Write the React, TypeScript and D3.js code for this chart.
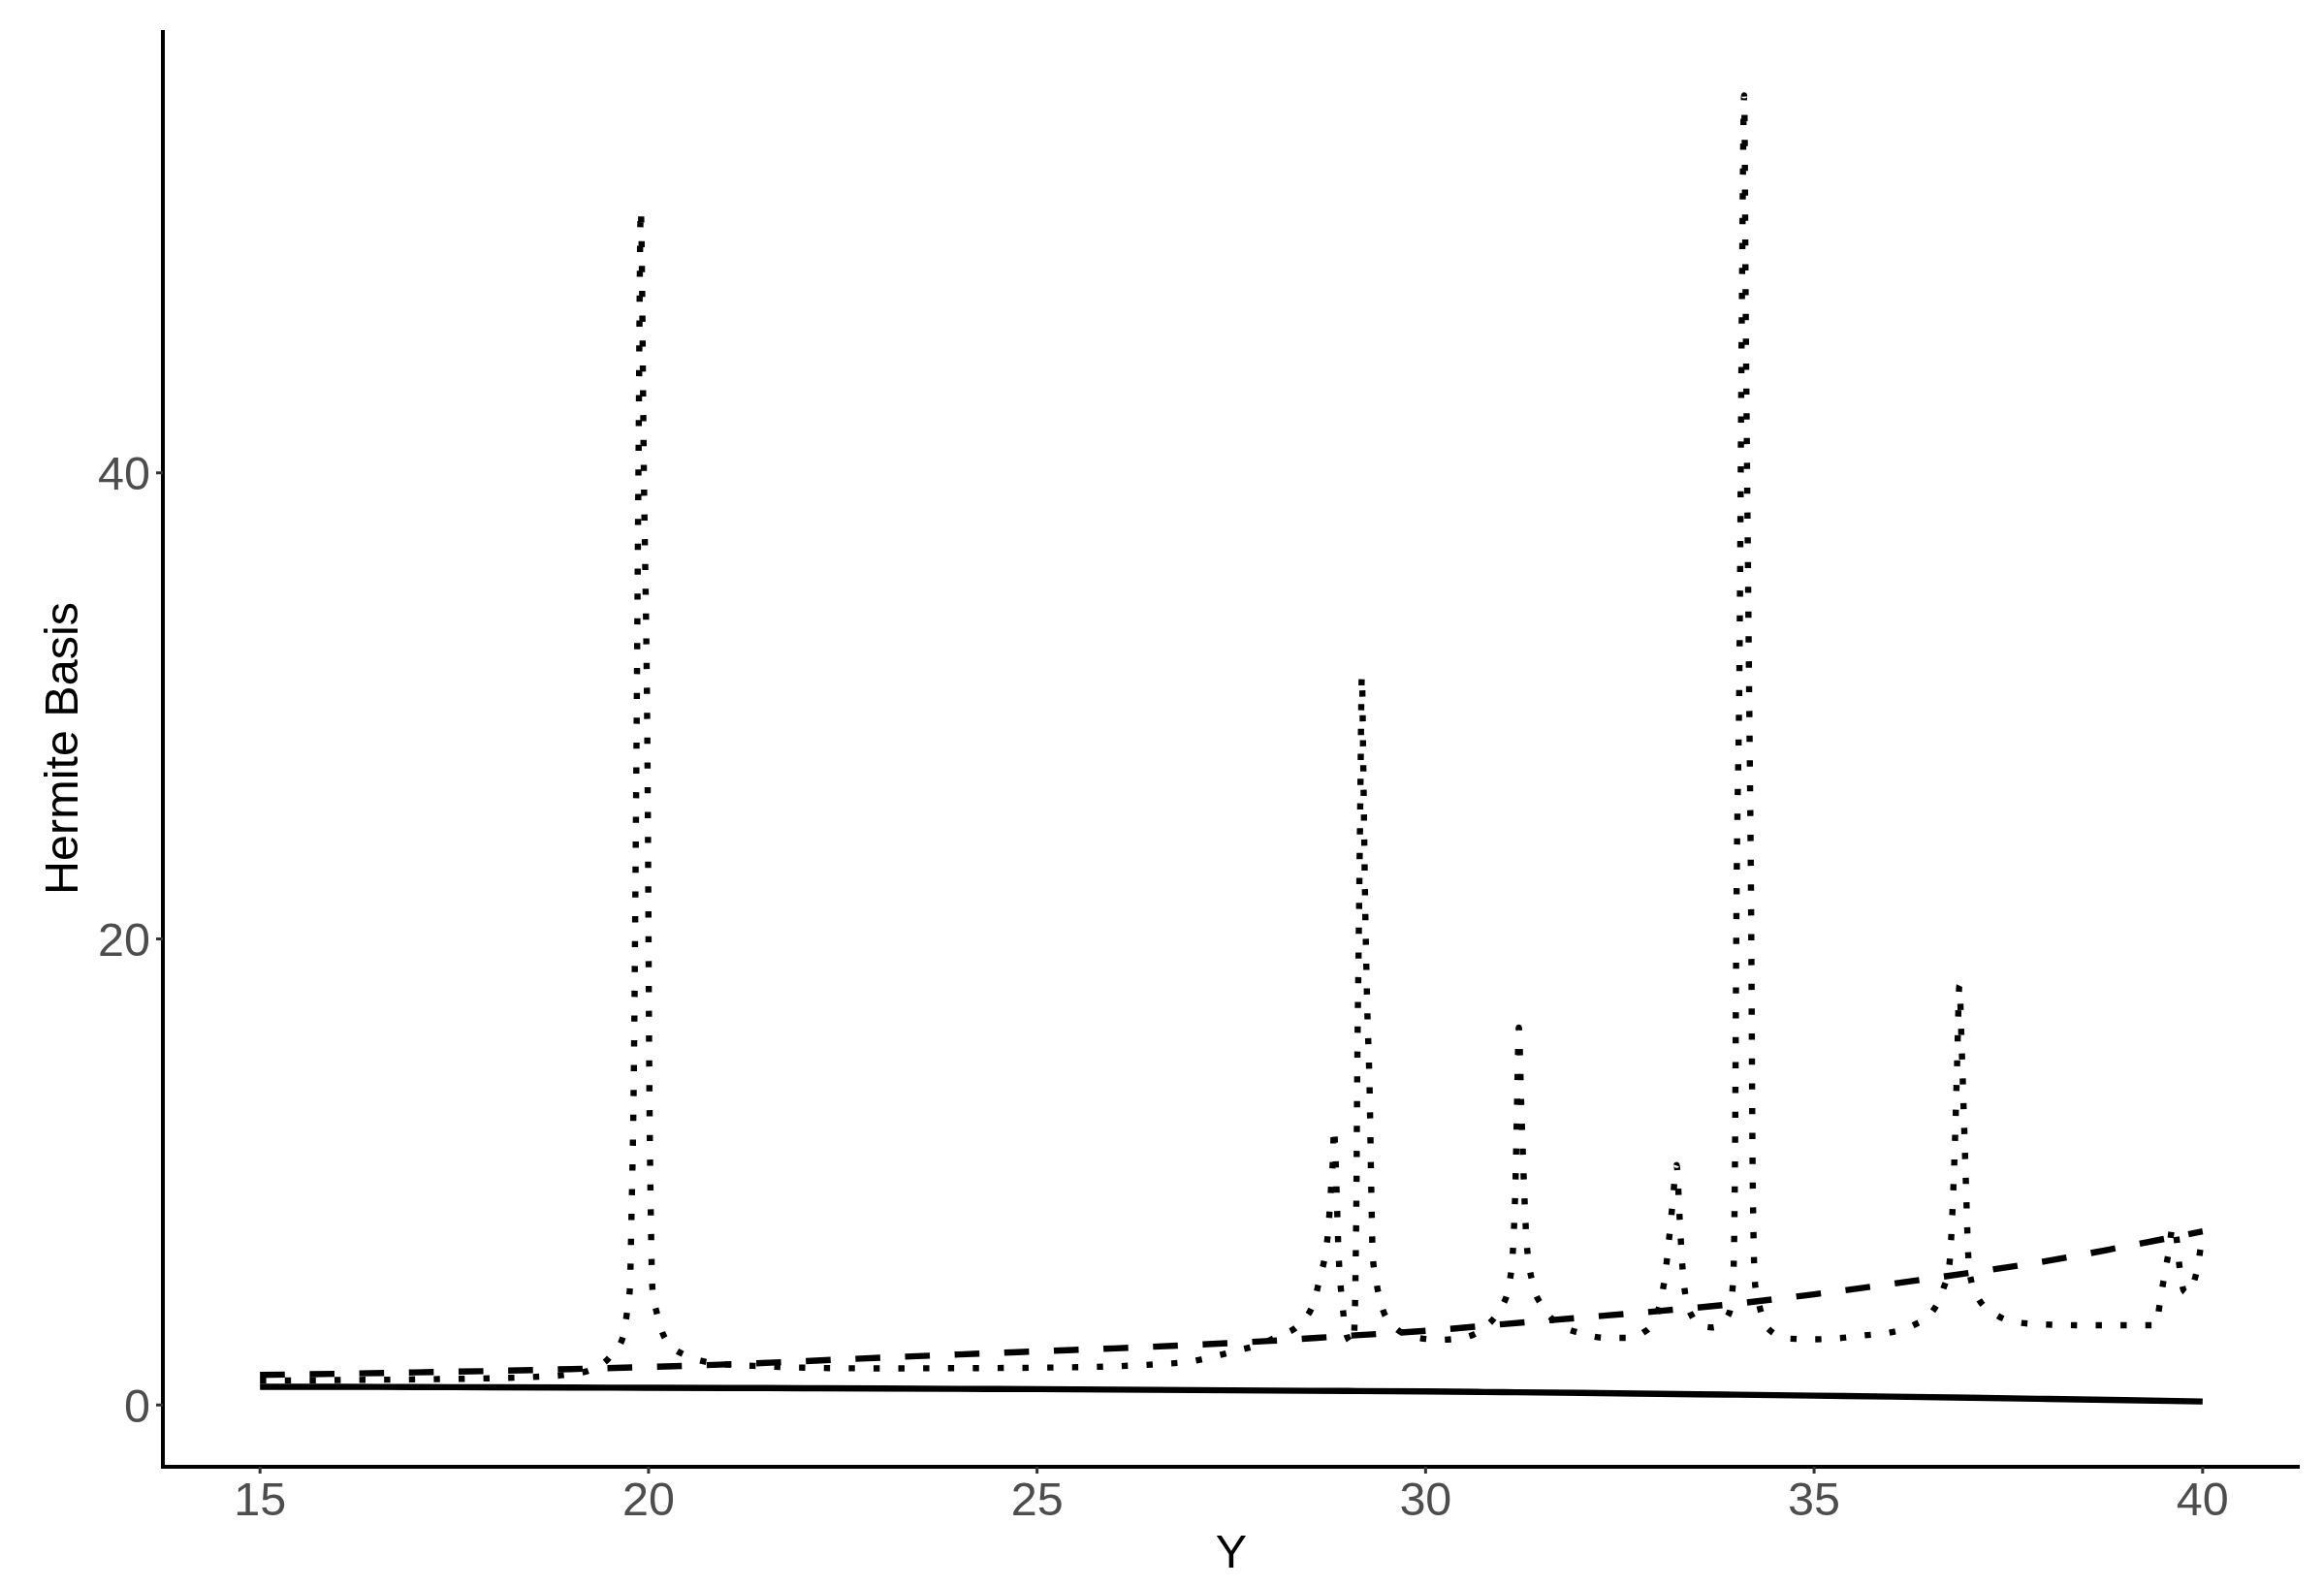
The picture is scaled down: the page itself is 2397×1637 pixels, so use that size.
import React from 'react';
import * as d3 from 'd3';

// grid for the two smooth basis curves
const gridX = [15, 16, 17, 18, 19, 20, 21, 22, 23, 24, 25, 26, 27, 28, 29, 30, 31, 32, 33, 34, 35, 36, 37, 38, 39, 40];
const solidY = [0.78, 0.78, 0.77, 0.76, 0.75, 0.74, 0.73, 0.72, 0.71, 0.69, 0.68, 0.66, 0.64, 0.62, 0.6, 0.58, 0.55, 0.52, 0.48, 0.44, 0.4, 0.36, 0.31, 0.26, 0.21, 0.15];
const dashedY = [1.29, 1.34, 1.4, 1.46, 1.54, 1.63, 1.74, 1.88, 2.03, 2.17, 2.3, 2.43, 2.58, 2.75, 2.97, 3.18, 3.47, 3.75, 4.03, 4.35, 4.75, 5.2, 5.67, 6.18, 6.8, 7.45];

// the spiky third basis function
const dottedX = [
  15, 16, 17, 18, 18.5, 19, 19.25, 19.5, 19.67, 19.72, 19.76, 19.78, 19.81, 19.84, 19.87, 19.9,
  19.94, 19.99, 20.01, 20.03, 20.05, 20.11, 20.21, 20.45, 20.96, 21.5, 22, 23, 24, 25, 26, 26.5,
  27, 27.3, 27.6, 27.87, 28.1, 28.37, 28.56, 28.64, 28.71, 28.75, 28.77, 28.79, 28.81, 28.82,
  28.84, 28.86, 28.88, 28.9, 28.93, 28.97, 29.02, 29.07, 29.09, 29.1, 29.11, 29.12, 29.14, 29.16,
  29.18, 29.2, 29.22, 29.25, 29.28, 29.3, 29.32, 29.36, 29.43, 29.58, 29.87, 30.19, 30.5, 30.75,
  30.9, 30.98, 31.08, 31.13, 31.16, 31.18, 31.2, 31.23, 31.26, 31.3, 31.38, 31.5, 31.7, 32, 32.33,
  32.64, 32.8, 32.9, 33.02, 33.08, 33.13, 33.18, 33.23, 33.27, 33.3, 33.34, 33.43, 33.55, 33.69,
  33.8, 33.91, 33.96, 33.98, 34, 34.04, 34.07, 34.1, 34.12, 34.16, 34.19, 34.21, 34.24, 34.3, 34.4,
  34.67, 35, 35.3, 35.63, 35.96, 36.26, 36.52, 36.66, 36.74, 36.78, 36.81, 36.84, 36.87, 36.9,
  36.92, 36.94, 36.96, 36.98, 37, 37.11, 37.33, 37.63, 37.95, 38.5, 39, 39.4, 39.45, 39.5, 39.56,
  39.62, 39.67, 39.7, 39.76, 39.82, 39.88, 39.95, 40
];
const dottedY = [
  1.05, 1.07, 1.1, 1.15, 1.2, 1.32, 1.5, 2.05, 2.9, 3.9, 5, 8, 14, 26, 40, 51.3,
  40, 26, 14, 8, 5, 3.9, 2.88, 2.17, 1.75, 1.66, 1.6, 1.57, 1.58, 1.6, 1.66, 1.74,
  1.88, 2.1, 2.35, 2.6, 2.95, 3.45, 4.4, 5.45, 6.5, 7.6, 8.6, 9.7, 10.75, 11.9,
  10.7, 8.6, 6.5, 5.4, 4.3, 3.2, 2.75, 2.63, 4, 6, 9, 14, 20, 26,
  31.3, 27, 22, 17, 13.5, 9.5, 6.4, 5.4, 4.3, 3.4, 2.9, 2.8, 2.9, 3.3,
  3.8, 4.2, 5.25, 7, 10, 13.5, 16.2, 13, 10, 7, 5.2, 4.25, 3.5, 3.08, 2.88,
  2.88, 3.1, 3.4, 4.4, 5.5, 7, 8.7, 10.3, 8, 6.2, 4.8, 3.8, 3.4, 3.33,
  3.5, 3.96, 5.5, 9.7, 20.9, 32, 47, 56.2, 47, 32, 20.9, 9.7, 5.2, 4.2, 3.3,
  2.85, 2.82, 2.86, 2.98, 3.1, 3.4, 4, 4.96, 6, 8.3, 11, 14.6, 18, 15.3,
  13.2, 11, 8.8, 6.7, 5.7, 4.6, 3.9, 3.54, 3.46, 3.42, 3.42, 3.42, 4.38, 5.4, 6.5,
  7.7, 7, 6, 4.9, 4.8, 5.2, 6.2, 7.45
];

const xTicks = [15, 20, 25, 30, 35, 40];
const yTicks = [0, 20, 40];

const W = 2397;
const H = 1637;
const left = 168, right = 2372, top = 31, bottom = 1513;
const font = '"Liberation Sans", Arial, Helvetica, sans-serif';
const lwd = 6.4;

// ggplot-style 5% expansion of the data range
const expand = ([a, b]: number[]) => {
  const pad = (b - a) * 0.05;
  return [a - pad, b + pad];
};

export default function App() {
  const allY = [...solidY, ...dashedY, ...dottedY];
  const x = d3.scaleLinear().domain(expand(d3.extent(gridX) as number[])).range([left, right]);
  const y = d3.scaleLinear().domain(expand(d3.extent(allY) as number[])).range([bottom, top]);

  const line = d3.line<[number, number]>()
    .x(d => x(d[0]))
    .y(d => y(d[1]))
    .curve(d3.curveMonotoneX);

  const solidPath = line(gridX.map((v, i) => [v, solidY[i]]));
  const dashedPath = line(gridX.map((v, i) => [v, dashedY[i]]));
  const dottedPath = line(dottedX.map((v, i) => [v, dottedY[i]]));

  return (
    <svg width={W} height={H} style={{ position: 'absolute', left: 0, top: 0, background: '#fff' }}>
      <rect width={W} height={H} fill="#fff" />

      {/* series */}
      <path d={solidPath || ''} fill="none" stroke="#000" strokeWidth={lwd} strokeLinecap="butt" />
      <path d={dashedPath || ''} fill="none" stroke="#000" strokeWidth={lwd}
        strokeDasharray={`${lwd * 4} ${lwd * 4}`} strokeLinecap="butt" />
      <path d={dottedPath || ''} fill="none" stroke="#000" strokeWidth={lwd}
        strokeDasharray={`${lwd} ${lwd * 3}`} strokeLinecap="butt" />

      {/* axes */}
      <line x1={left} x2={left} y1={top} y2={bottom + 2} stroke="#000" strokeWidth={4} />
      <line x1={left - 2} x2={right} y1={bottom} y2={bottom} stroke="#000" strokeWidth={4} />

      {yTicks.map(t => (
        <g key={'y' + t}>
          <line x1={left - 7} x2={left} y1={y(t)} y2={y(t)} stroke="#333" strokeWidth={3} />
          <text x={155} y={y(t)} dy="0.36em" textAnchor="end" fontFamily={font} fontSize={48.5} fill="#4D4D4D">{t}</text>
        </g>
      ))}
      {xTicks.map(t => (
        <g key={'x' + t}>
          <line x1={x(t)} x2={x(t)} y1={bottom} y2={bottom + 7} stroke="#333" strokeWidth={3} />
          <text x={x(t)} y={1563} textAnchor="middle" fontFamily={font} fontSize={48.5} fill="#4D4D4D">{t}</text>
        </g>
      ))}

      {/* axis titles */}
      <text x={(left + right) / 2} y={1617} textAnchor="middle" fontFamily={font} fontSize={48.5} fill="#000">Y</text>
      <text transform={`translate(80,${(top + bottom) / 2}) rotate(-90)`} textAnchor="middle"
        fontFamily={font} fontSize={48.5} fill="#000">Hermite Basis</text>
    </svg>
  );
}
